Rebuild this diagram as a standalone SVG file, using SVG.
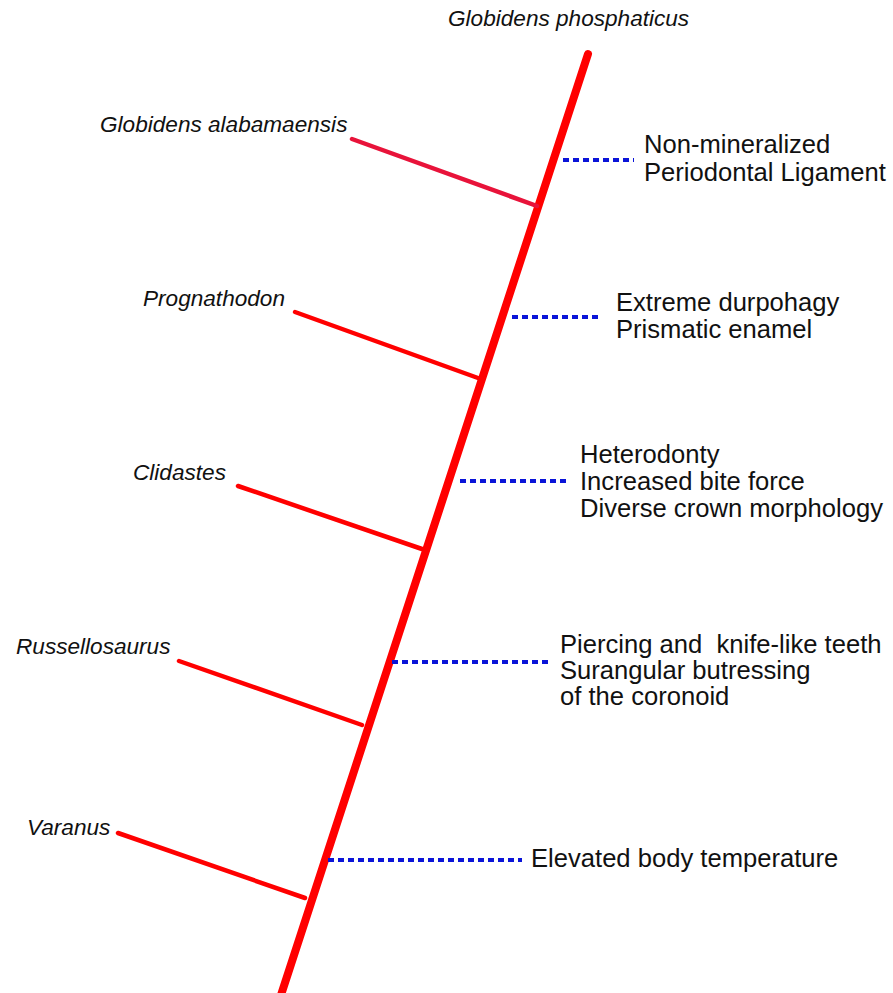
<svg xmlns="http://www.w3.org/2000/svg" width="893" height="993" viewBox="0 0 893 993">
<style>
.taxon{font-family:"Liberation Sans",Arial,sans-serif;font-style:italic;font-size:22.6px;fill:#111}
.trait{font-family:"Liberation Sans",Arial,sans-serif;font-size:25.6px;fill:#111}
.branch{stroke:#ff0000;stroke-width:4.5;stroke-linecap:round;fill:none}
.dot{stroke:#0a14d8;stroke-width:4;stroke-dasharray:6 4;fill:none}
</style>
<rect width="893" height="993" fill="#fff"/>
<g id="connectors">
<line x1="588" y1="54" x2="281" y2="995" stroke="#ff0000" stroke-width="8" stroke-linecap="round"/>
<line class="branch" x1="352" y1="139" x2="537" y2="206" style="stroke:#e8133a"/>
<line class="branch" x1="295" y1="312" x2="478" y2="378"/>
<line class="branch" x1="238" y1="486" x2="422" y2="549"/>
<line class="branch" x1="179" y1="661" x2="362" y2="725"/>
<line class="branch" x1="118" y1="833" x2="305" y2="898"/>
<line class="dot" x1="563" y1="160" x2="634" y2="160"/>
<line class="dot" x1="512" y1="317" x2="602" y2="317"/>
<line class="dot" x1="460" y1="481" x2="570" y2="481"/>
<line class="dot" x1="392" y1="662" x2="550" y2="662"/>
<line class="dot" x1="328" y1="860" x2="522" y2="860"/>
</g>
<g id="globidens-phosphaticus"><text class="taxon" x="448" y="26">Globidens phosphaticus</text></g>
<g id="globidens-alabamaensis"><text class="taxon" x="100" y="132">Globidens alabamaensis</text></g>
<g id="prognathodon"><text class="taxon" x="143" y="306">Prognathodon</text></g>
<g id="clidastes"><text class="taxon" x="133" y="480">Clidastes</text></g>
<g id="russellosaurus"><text class="taxon" x="16" y="654">Russellosaurus</text></g>
<g id="varanus"><text class="taxon" x="27" y="835">Varanus</text></g>
<g id="trait-1"><text class="trait" x="644" y="153">Non-mineralized</text><text class="trait" x="644" y="181">Periodontal Ligament</text></g>
<g id="trait-2"><text class="trait" x="616" y="311">Extreme durpohagy</text><text class="trait" x="616" y="338">Prismatic enamel</text></g>
<g id="trait-3"><text class="trait" x="580" y="463">Heterodonty</text><text class="trait" x="580" y="490">Increased bite force</text><text class="trait" x="580" y="517">Diverse crown morphology</text></g>
<g id="trait-4"><text class="trait" x="560" y="653">Piercing and&#160; knife-like teeth</text><text class="trait" x="560" y="679">Surangular butressing</text><text class="trait" x="560" y="705">of the coronoid</text></g>
<g id="trait-5"><text class="trait" x="531" y="867">Elevated body temperature</text></g>
</svg>
